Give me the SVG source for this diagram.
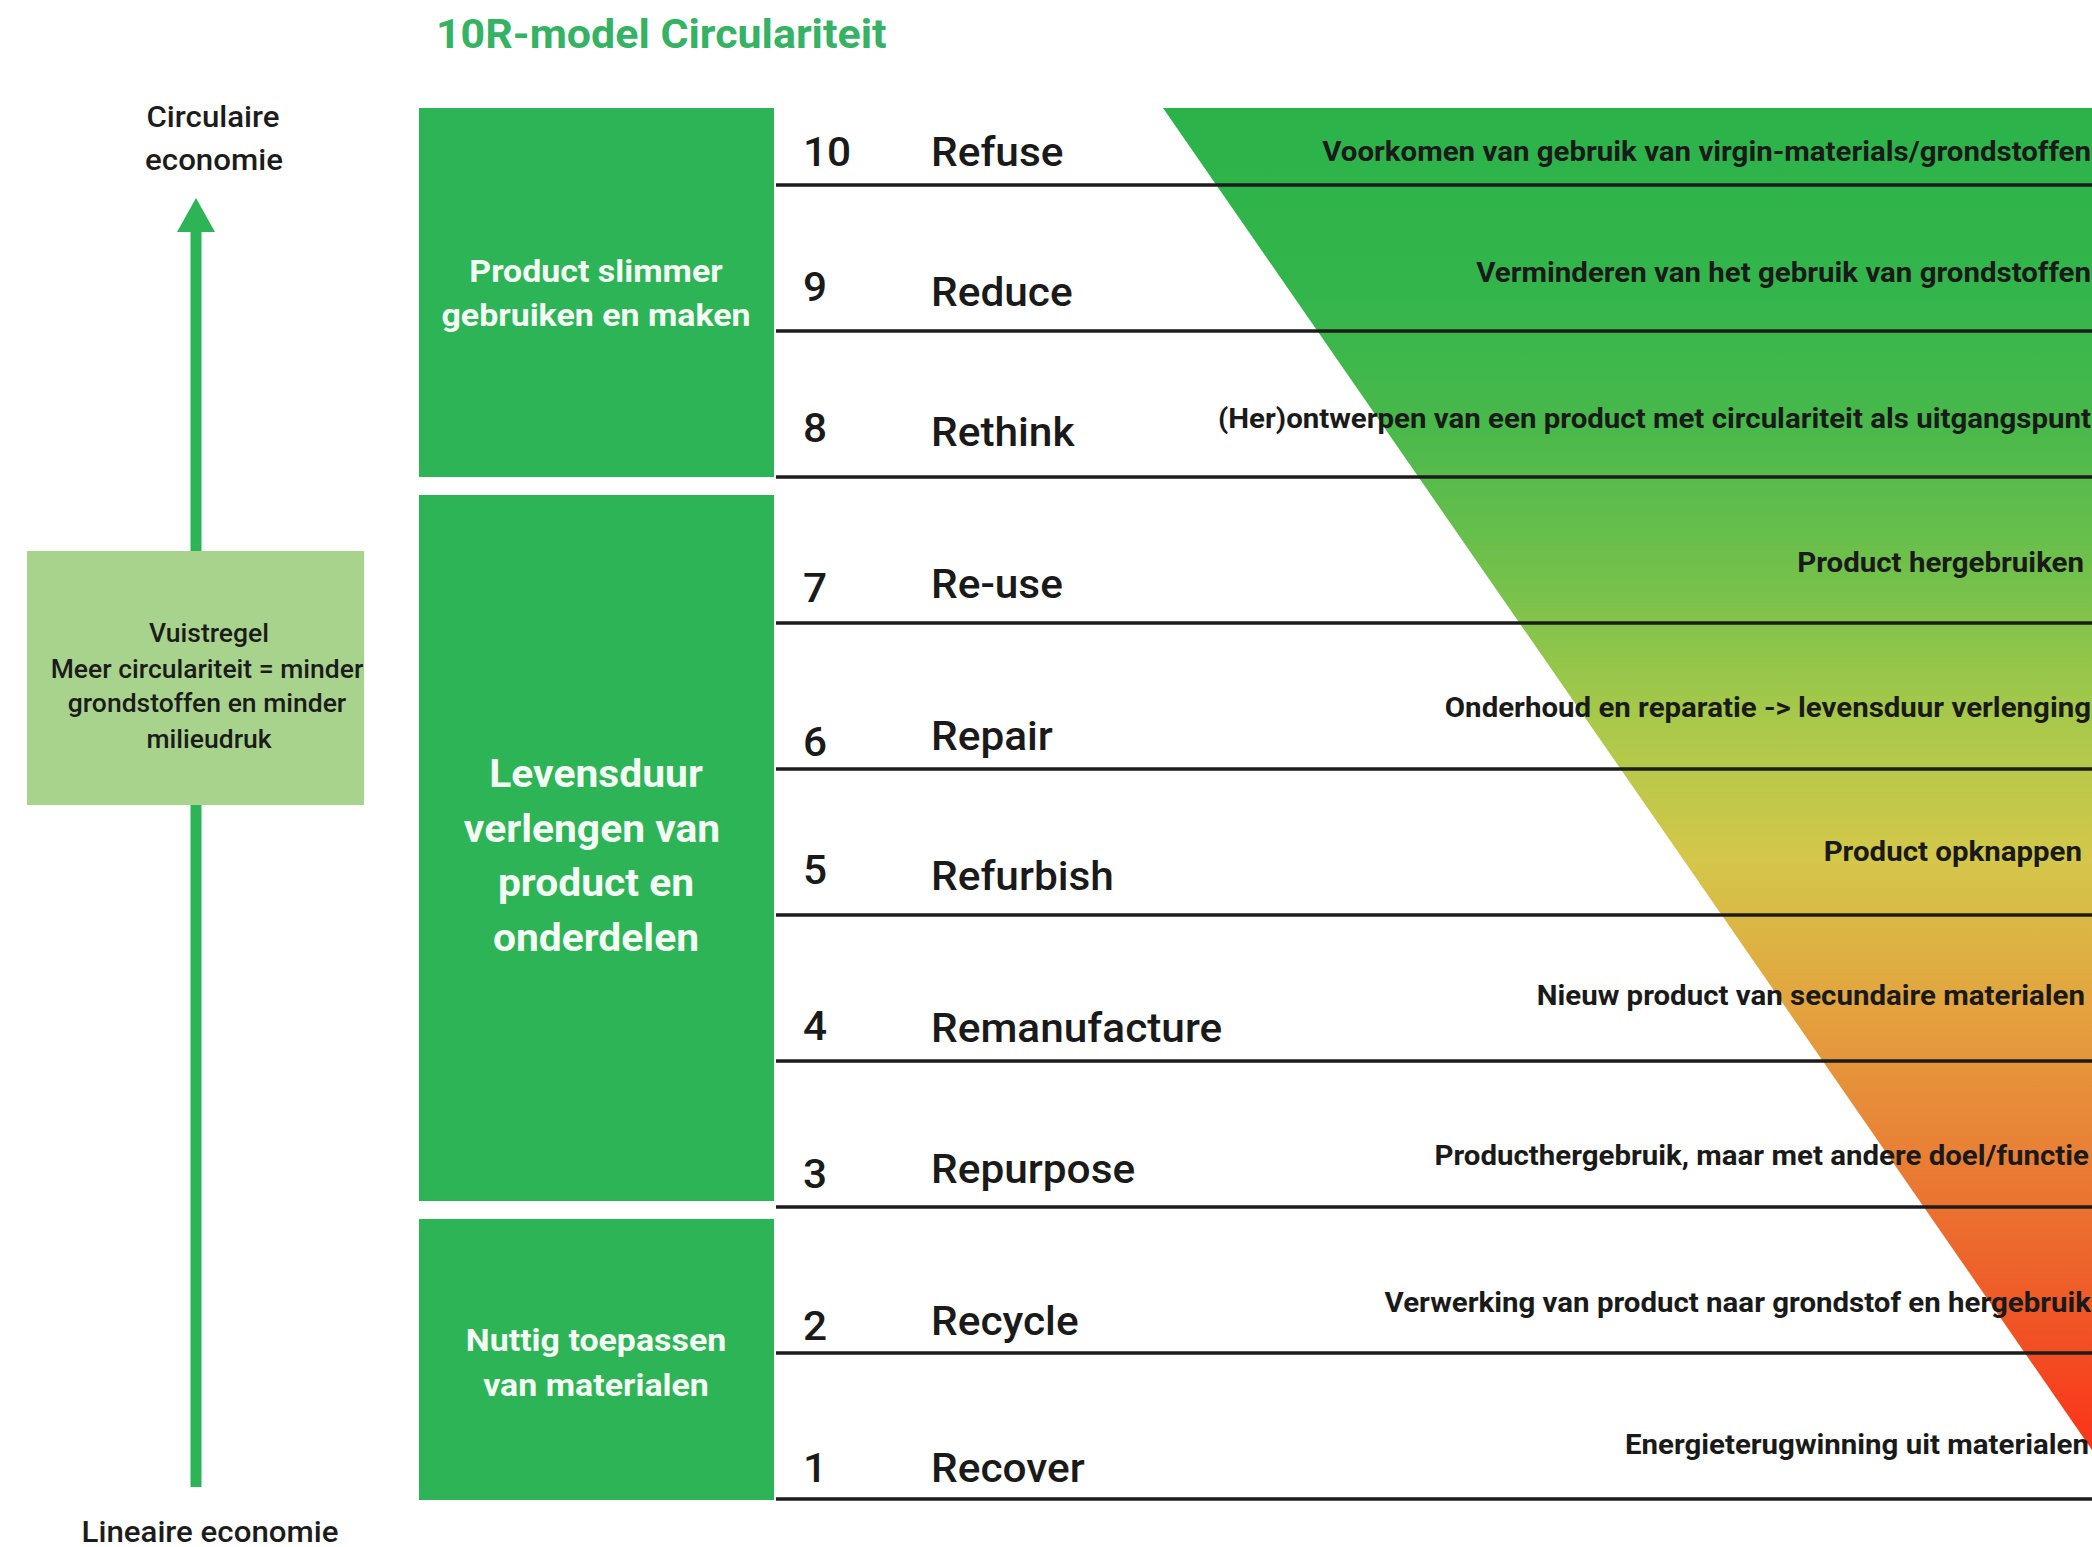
<svg xmlns="http://www.w3.org/2000/svg" width="2092" height="1547" viewBox="0 0 2092 1547">
<style>
text{font-family:Roboto,"Liberation Sans",Arial,sans-serif}
.title{font-weight:700;font-size:40.5px;fill:#35b263}
.axis{font-weight:500;font-size:29.5px;fill:#1c1c1c;text-anchor:middle}
.rule{font-weight:500;font-size:25px;fill:#1c1c1c;text-anchor:middle}
.cat{font-weight:700;font-size:32px;fill:#f4fbf4;text-anchor:middle}
.cat2{font-size:38.5px}
.num,.lbl{font-weight:500;font-size:40px;fill:#1a1a1a}
.desc{font-weight:700;font-size:27.8px;fill:#1a1a1a;text-anchor:end}
.box{fill:#2db457}
.row{stroke:#1c1c1c;stroke-width:3.5}
</style>
<defs>
<linearGradient id="grad" gradientUnits="userSpaceOnUse" x1="0" y1="108" x2="0" y2="1450">
<stop offset="0" stop-color="#2bb34a"/>
<stop offset="0.136" stop-color="#33b54b"/>
<stop offset="0.24" stop-color="#4ab94b"/>
<stop offset="0.352" stop-color="#74c14b"/>
<stop offset="0.456" stop-color="#a8c94a"/>
<stop offset="0.56" stop-color="#d4c74a"/>
<stop offset="0.672" stop-color="#e3a23e"/>
<stop offset="0.784" stop-color="#e97e35"/>
<stop offset="0.896" stop-color="#ef5827"/>
<stop offset="1" stop-color="#fc3318"/>
</linearGradient>
</defs>
<rect width="2092" height="1547" fill="#ffffff"/>
<g id="title"><text class="title" transform="translate(436,48) scale(1.06,1)">10R-model Circulariteit</text></g>
<g id="gradient-band"><polygon points="1163,108 2092,108 2092,1450" fill="url(#grad)"/></g>
<g id="connectors">
<line x1="196" y1="225" x2="196" y2="1487" stroke="#2db457" stroke-width="11"/>
<polygon points="196,198 215,232 177,232" fill="#2db457"/>
</g>
<g id="axis-top"><text class="axis" transform="translate(213,127) scale(1.06,1)">Circulaire</text><text class="axis" transform="translate(214,170) scale(1.06,1)">economie</text></g>
<g id="axis-bottom"><text class="axis" transform="translate(210,1542) scale(1.06,1)">Lineaire economie</text></g>
<g id="vuistregel">
<rect x="27" y="551" width="337" height="254" fill="#a8d38d"/>
<text class="rule" transform="translate(209,642) scale(1.06,1)">Vuistregel</text>
<text class="rule" transform="translate(207,678) scale(1.06,1)">Meer circulariteit = minder</text>
<text class="rule" transform="translate(207,712) scale(1.06,1)">grondstoffen en minder</text>
<text class="rule" transform="translate(209,748) scale(1.06,1)">milieudruk</text>
</g>
<g id="cat-slimmer">
<rect class="box" x="419" y="108" width="355" height="369"/>
<text class="cat" transform="translate(596,282) scale(1.06,1)">Product slimmer</text>
<text class="cat" transform="translate(596,326) scale(1.06,1)">gebruiken en maken</text>
</g>
<g id="cat-levensduur">
<rect class="box" x="419" y="495" width="355" height="706"/>
<text class="cat cat2" transform="translate(596,787) scale(1.06,1)">Levensduur</text>
<text class="cat cat2" transform="translate(592,842) scale(1.06,1)">verlengen van</text>
<text class="cat cat2" transform="translate(596,896) scale(1.06,1)">product en</text>
<text class="cat cat2" transform="translate(596,951) scale(1.06,1)">onderdelen</text>
</g>
<g id="cat-nuttig">
<rect class="box" x="419" y="1219" width="355" height="281"/>
<text class="cat" transform="translate(596,1351) scale(1.06,1)">Nuttig toepassen</text>
<text class="cat" transform="translate(596,1396) scale(1.06,1)">van materialen</text>
</g>
<g id="row-lines">
<line class="row" x1="776" y1="185" x2="2092" y2="185"/>
<line class="row" x1="776" y1="331" x2="2092" y2="331"/>
<line class="row" x1="776" y1="477" x2="2092" y2="477"/>
<line class="row" x1="776" y1="623" x2="2092" y2="623"/>
<line class="row" x1="776" y1="769" x2="2092" y2="769"/>
<line class="row" x1="776" y1="915" x2="2092" y2="915"/>
<line class="row" x1="776" y1="1061" x2="2092" y2="1061"/>
<line class="row" x1="776" y1="1207" x2="2092" y2="1207"/>
<line class="row" x1="776" y1="1353" x2="2092" y2="1353"/>
<line class="row" x1="776" y1="1499" x2="2092" y2="1499"/>
</g>
<g id="r10"><text class="num" transform="translate(803,166) scale(1.06,1)">10</text><text class="lbl" transform="translate(931,166) scale(1.06,1)">Refuse</text><text class="desc" transform="translate(2091,161) scale(1.06,1)">Voorkomen van gebruik van virgin-materials/grondstoffen</text></g>
<g id="r9"><text class="num" transform="translate(803,301) scale(1.06,1)">9</text><text class="lbl" transform="translate(931,306) scale(1.06,1)">Reduce</text><text class="desc" transform="translate(2091,282) scale(1.06,1)">Verminderen van het gebruik van grondstoffen</text></g>
<g id="r8"><text class="num" transform="translate(803,442) scale(1.06,1)">8</text><text class="lbl" transform="translate(931,446) scale(1.06,1)">Rethink</text><text class="desc" transform="translate(2091,428) scale(1.06,1)">(Her)ontwerpen van een product met circulariteit als uitgangspunt</text></g>
<g id="r7"><text class="num" transform="translate(803,602) scale(1.06,1)">7</text><text class="lbl" transform="translate(931,598) scale(1.06,1)">Re-use</text><text class="desc" transform="translate(2084,572) scale(1.06,1)">Product hergebruiken</text></g>
<g id="r6"><text class="num" transform="translate(803,756) scale(1.06,1)">6</text><text class="lbl" transform="translate(931,750) scale(1.06,1)">Repair</text><text class="desc" transform="translate(2091,717) scale(1.06,1)">Onderhoud en reparatie -&gt; levensduur verlenging</text></g>
<g id="r5"><text class="num" transform="translate(803,884) scale(1.06,1)">5</text><text class="lbl" transform="translate(931,890) scale(1.06,1)">Refurbish</text><text class="desc" transform="translate(2082,861) scale(1.06,1)">Product opknappen</text></g>
<g id="r4"><text class="num" transform="translate(803,1040) scale(1.06,1)">4</text><text class="lbl" transform="translate(931,1042) scale(1.06,1)">Remanufacture</text><text class="desc" transform="translate(2085,1005) scale(1.06,1)">Nieuw product van secundaire materialen</text></g>
<g id="r3"><text class="num" transform="translate(803,1188) scale(1.06,1)">3</text><text class="lbl" transform="translate(931,1183) scale(1.06,1)">Repurpose</text><text class="desc" transform="translate(2089,1165) scale(1.06,1)">Producthergebruik, maar met andere doel/functie</text></g>
<g id="r2"><text class="num" transform="translate(803,1340) scale(1.06,1)">2</text><text class="lbl" transform="translate(931,1335) scale(1.06,1)">Recycle</text><text class="desc" transform="translate(2091,1312) scale(1.06,1)">Verwerking van product naar grondstof en hergebruik</text></g>
<g id="r1"><text class="num" transform="translate(803,1482) scale(1.06,1)">1</text><text class="lbl" transform="translate(931,1482) scale(1.06,1)">Recover</text><text class="desc" transform="translate(2089,1454) scale(1.06,1)">Energieterugwinning uit materialen</text></g>
</svg>
